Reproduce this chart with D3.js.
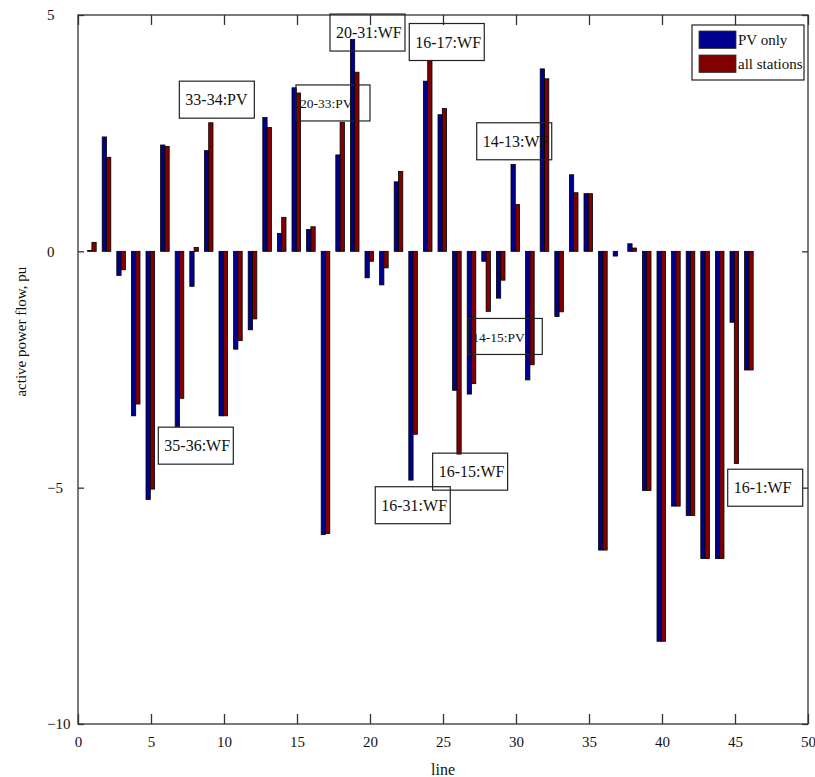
<html>
<head><meta charset="utf-8"></head>
<script src="https://d3js.org/d3.v7.min.js"></script>
<style>
  body { margin: 0; background: #fff; }
  text { font-family: "Liberation Serif", "Times New Roman", serif; fill: #111; }
</style>
<body>
<svg width="815" height="777"></svg>
<script>
// line numbers and flows
var lines = [1,2,3,4,5,6,7,8,9,10,11,12,13,14,15,16,17,18,19,20,21,22,23,
             24,25,26,27,28,29,30,31,32,33,34,35,36,37,38,39,40,41,42,43,44,45,46];
var pvOnly = [0.02, 2.42, -0.51, -3.48, -5.25, 2.25, -3.71, -0.74, 2.13, -3.48,
              -2.07, -1.66, 2.83, 0.38, 3.46, 0.46, -5.99, 2.04, 4.48, -0.56,
              -0.71, 1.47, -4.84, 3.60, 2.89, -2.94, -3.02, -0.21, -0.99, 1.84,
              -2.72, 3.86, -1.38, 1.62, 1.22, -6.32, -0.10, 0.16, -5.06, -8.25,
              -5.39, -5.59, -6.50, -6.50, -1.50, -2.51];
var allStations = [0.19, 1.99, -0.39, -3.23, -5.03, 2.22, -3.11, 0.08, 2.72, -3.48,
              -1.89, -1.43, 2.62, 0.72, 3.35, 0.52, -5.97, 2.73, 3.79, -0.21,
              -0.35, 1.69, -3.87, 4.04, 3.02, -4.29, -2.80, -1.27, -0.61, 0.99,
              -2.40, 3.65, -1.28, 1.24, 1.22, -6.32, 0, 0.07, -5.06, -8.25,
              -5.39, -5.59, -6.50, -6.50, -4.49, -2.51];
var seriesNames = ["PV only", "all stations"];
var seriesColors = ["#00008f", "#800000"];
var xTicks = [0,5,10,15,20,25,30,35,40,45,50];
var yTicks = [-10,-5,0,5];

// annotation boxes: text, left edge (line), top edge (pu)
var annoText = ["33-34:PV","20-33:PV","20-31:WF","16-17:WF","14-13:WF",
                "35-36:WF","14-15:PV","16-15:WF","16-31:WF","16-1:WF"];
var annoX = [6.94, 14.93, 17.26, 22.69, 27.31, 5.50, 26.73, 24.29, 20.36, 44.5];
var annoY = [3.60, 3.52, 5.02, 4.82, 2.72, -3.72, -1.42, -4.27, -4.98, -4.61];
var annoSmall = [false, true, false, false, false, false, true, false, false, false];

var m = {left: 78, right: 808, top: 15, bottom: 724};
var svg = d3.select("svg");

var x = d3.scaleLinear().domain([0, 50]).range([m.left, m.right]);
var y = d3.scaleLinear().domain([-10, 5]).range([m.bottom, m.top]);
var sub = d3.scaleBand().domain(seriesNames).range([-5, 3.6]);

var rows = [];
lines.forEach(function(l, i) {
  rows.push({line: l, s: seriesNames[0], v: pvOnly[i]});
  rows.push({line: l, s: seriesNames[1], v: allStations[i]});
});

// bars
svg.append("g").selectAll("rect")
  .data(rows.filter(function(d) { return d.v !== 0; }))
  .enter().append("rect")
  .attr("x", function(d) { return x(d.line) + sub(d.s); })
  .attr("width", sub.bandwidth())
  .attr("y", function(d) { return y(Math.max(0, d.v)); })
  .attr("height", function(d) { return Math.abs(y(d.v) - y(0)); })
  .attr("fill", function(d) { return seriesColors[seriesNames.indexOf(d.s)]; })
  .attr("stroke", "#000")
  .attr("stroke-width", 0.8);

// frame
svg.append("rect")
  .attr("x", m.left).attr("y", m.top)
  .attr("width", m.right - m.left).attr("height", m.bottom - m.top)
  .attr("fill", "none").attr("stroke", "#333").attr("stroke-width", 1.3);

// axes
var xb = svg.append("g").attr("transform", "translate(0," + m.bottom + ")")
  .call(d3.axisBottom(x).tickValues(xTicks).tickSize(-10).tickSizeOuter(0).tickPadding(12));
var xt = svg.append("g").attr("transform", "translate(0," + m.top + ")")
  .call(d3.axisTop(x).tickValues(xTicks).tickSize(-10).tickSizeOuter(0).tickFormat(""));
var yl = svg.append("g").attr("transform", "translate(" + m.left + ",0)")
  .call(d3.axisLeft(y).tickValues(yTicks).tickSize(-6).tickSizeOuter(0));
var yr = svg.append("g").attr("transform", "translate(" + m.right + ",0)")
  .call(d3.axisRight(y).tickValues(yTicks).tickSize(-6).tickSizeOuter(0).tickFormat(""));

[xb, xt, yl, yr].forEach(function(g) {
  g.select(".domain").remove();
  g.selectAll(".tick line").attr("stroke", "#333").attr("stroke-width", 1.3);
  g.selectAll("text").style("font-family", "Liberation Serif").attr("font-size", 15).attr("fill", "#111");
});
yl.selectAll("text").attr("text-anchor", "start").attr("x", 47 - m.left);

// axis titles
svg.append("text").attr("x", x(25)).attr("y", 775)
  .attr("text-anchor", "middle").attr("font-size", 16).text("line");
svg.append("text")
  .attr("transform", "translate(26," + y(-1.7) + ") rotate(-90)")
  .attr("text-anchor", "middle").attr("font-size", 15).text("active power flow, pu");

// annotation boxes
var ann = svg.append("g").selectAll("g")
  .data(annoText).enter().append("g")
  .attr("transform", function(d, i) { return "translate(" + x(annoX[i]) + "," + y(annoY[i]) + ")"; });
ann.append("rect")
  .attr("width", function(d, i) { return annoSmall[i] ? 74 : 75; })
  .attr("height", function(d, i) { return annoSmall[i] ? 36 : 37; })
  .attr("fill", "none").attr("stroke", "#222").attr("stroke-width", 1.2);
ann.append("text")
  .attr("x", function(d, i) { return annoSmall[i] ? 4 : 6; })
  .attr("y", function(d, i) { return annoSmall[i] ? 23.5 : 24; })
  .attr("font-size", function(d, i) { return annoSmall[i] ? 13.5 : 16; })
  .text(function(d) { return d; });

// legend
var lg = svg.append("g").attr("transform", "translate(692,25)");
lg.append("rect").attr("width", 112).attr("height", 55)
  .attr("fill", "#fff").attr("stroke", "#222").attr("stroke-width", 1.2);
seriesNames.forEach(function(s, i) {
  lg.append("rect").attr("x", 7).attr("y", 6 + i * 24).attr("width", 37).attr("height", 17.5)
    .attr("fill", seriesColors[i]).attr("stroke", "#333").attr("stroke-width", 0.8);
  lg.append("text").attr("x", 46).attr("y", 20 + i * 23.5)
    .attr("font-size", 15).text(s);
});
</script>
</body>
</html>
